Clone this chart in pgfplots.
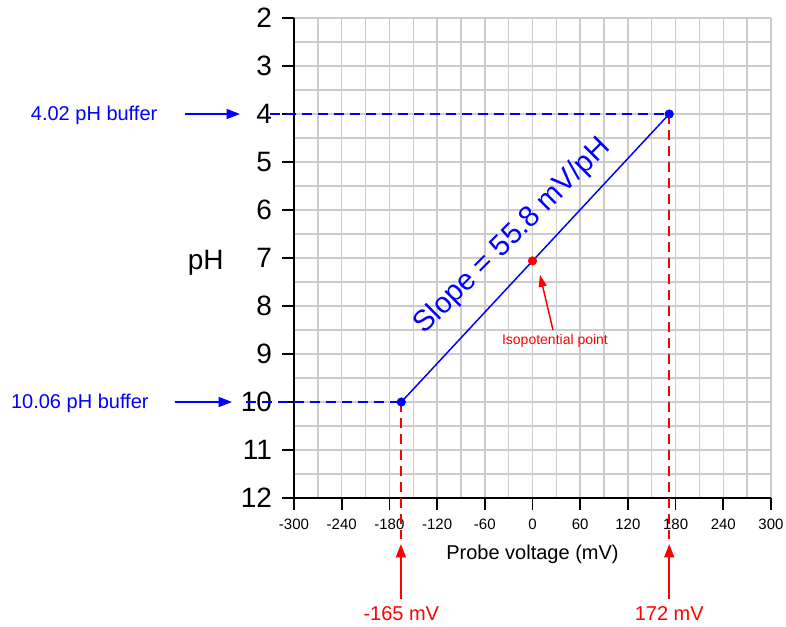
\documentclass[border=0pt]{standalone}
\usepackage{pgfplots}
\pgfplotsset{compat=1.18}
\usepackage{fontspec}
\setmainfont{Liberation Sans}
\usetikzlibrary{arrows.meta}
\definecolor{gridgray}{RGB}{204,204,204}
\definecolor{pureblue}{RGB}{0,0,255}
\definecolor{purered}{RGB}{255,0,0}
\begin{document}
\begin{tikzpicture}
\begin{axis}[
 scale only axis, width=357.75pt, height=360pt,
 xmin=-300, xmax=300, ymin=2, ymax=12, y dir=reverse,
 xtick={-300,-240,...,300}, ytick={2,3,...,12},
 minor x tick num=1, minor y tick num=1,
 grid=both,
 major grid style={gridgray, line width=1.1pt},
 minor grid style={gridgray, line width=1.1pt},
 axis x line*=bottom, axis y line*=left,
 axis line style={black, line width=1.3pt, -},
 tick align=outside, major tick length=9pt, minor tick length=0pt,
 major tick style={black, line width=1.3pt},
 /pgf/number format/assume math mode=true,
 xticklabel style={font=\fontsize{11.25}{13}\selectfont, yshift=-3pt},
 yticklabel style={font=\fontsize{21}{24}\selectfont, xshift=-4pt},
 xlabel={Probe voltage (mV)},
 xlabel style={font=\fontsize{15}{18}\selectfont, yshift=-5pt},
 clip=false,
]
% dashed guide lines
\addplot[draw=pureblue, line width=1.1pt, dash pattern=on 7.5pt off 4.5pt] coordinates {(-330,4) (172,4)};
\addplot[draw=pureblue, line width=1.1pt, dash pattern=on 7.5pt off 4.5pt] coordinates {(-360,10) (-165,10)};
\addplot[draw=purered, line width=1.2pt, dash pattern=on 7.5pt off 4.5pt] coordinates {(172,4) (172,12.85)};
\addplot[draw=purered, line width=1.2pt, dash pattern=on 7.5pt off 4.5pt] coordinates {(-165.5,10) (-165.5,12.85)};
% calibration line
\addplot[draw=pureblue, line width=1.1pt] coordinates {(-165,10) (172,4)};
\addplot[pureblue, only marks, mark=*, mark size=3.2pt] coordinates {(-165,10) (172,4)};
\addplot[purered, only marks, mark=*, mark size=3.2pt] coordinates {(0,7.06)};
% arrows
\addplot[draw=pureblue, fill=pureblue, line width=1.1pt, -{Triangle[length=10pt,width=7.5pt]}] coordinates {(-437,4) (-368,4)};
\addplot[draw=pureblue, fill=pureblue, line width=1.1pt, -{Triangle[length=10pt,width=7.5pt]}] coordinates {(-450,10) (-378,10)};
\addplot[draw=purered, fill=purered, line width=1.2pt, -{Triangle[length=10pt,width=7.5pt]}] coordinates {(-165.5,14.1) (-165.5,12.96)};
\addplot[draw=purered, fill=purered, line width=1.2pt, -{Triangle[length=10pt,width=7.5pt]}] coordinates {(172,14.1) (172,12.96)};
\addplot[draw=purered, fill=purered, line width=1.1pt, -{Triangle[length=9pt,width=6pt]}] coordinates {(25.8,8.5) (9.4,7.35)};
% labels
\node[anchor=east, text=pureblue, font=\fontsize{15}{18}\selectfont] at (axis cs:-466,4.02) {4.02 pH buffer};
\node[anchor=east, text=pureblue, font=\fontsize{15}{18}\selectfont] at (axis cs:-477,10.02) {10.06 pH buffer};
\node[text=purered, font=\fontsize{15}{18}\selectfont] at (axis cs:-165,14.4) {-165 mV};
\node[text=purered, font=\fontsize{15}{18}\selectfont] at (axis cs:172,14.4) {172 mV};
\node[text=purered, font=\fontsize{10.5}{12}\selectfont] at (axis cs:28.3,8.73) {Isopotential point};
\node[text=pureblue, rotate=45, font=\fontsize{22}{25}\selectfont] at (axis cs:-25,6.55) {Slope = 55.8 mV/pH};
\node[font=\fontsize{21}{24}\selectfont] at (axis cs:-411,7.1) {pH};
\end{axis}
\pgfresetboundingbox
\path (-220.5pt,-96pt) rectangle (369pt,373.5pt);
\end{tikzpicture}
\end{document}
